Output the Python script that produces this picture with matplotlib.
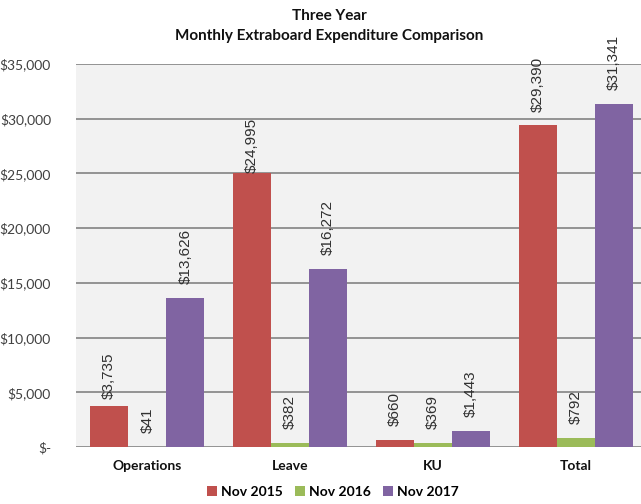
import matplotlib.pyplot as plt
import numpy as np
from matplotlib.patches import Patch
from matplotlib.ticker import FuncFormatter

categories = ["Operations", "Leave", "KU", "Total"]
series_names = ["Nov 2015", "Nov 2016", "Nov 2017"]
nov_2015 = [3735, 24995, 660, 29390]
nov_2016 = [41, 382, 369, 792]
nov_2017 = [13626, 16272, 1443, 31341]
colors = ["#C0504D", "#9BBB59", "#8064A2"]

plt.rcParams["font.family"] = ["Lato", "DejaVu Sans"]

fig = plt.figure(figsize=(6.41, 5.04), dpi=100)
ax = fig.add_axes([76 / 641, 57 / 504, 571 / 641, 383 / 504])
ax.set_facecolor("#F2F2F2")

# a couple of labels sit lower in the original chart
label_offset = {(0, 0): 5, (0, 1): 0}

x = np.arange(len(categories))
width = 0.8 / 3
for i, (vals, name) in enumerate(zip([nov_2015, nov_2016, nov_2017], series_names)):
    pos = x + (i - 1) * width
    ax.bar(pos, vals, width=width, color=colors[i], zorder=3, label=name)
    for j, (p, v) in enumerate(zip(pos, vals)):
        ax.annotate(
            f"${v:,}",
            (p, v),
            xytext=(0, label_offset.get((i, j), 10)),
            textcoords="offset points",
            rotation=90,
            ha="center",
            va="bottom",
            fontsize=11,
            family="Liberation Sans",
            color="#303030",
            zorder=4,
        )

ax.set_xlim(-0.5, 3.5)
ax.set_ylim(0, 35000)
ax.set_yticks(np.arange(0, 35001, 5000))
ax.yaxis.set_major_formatter(
    FuncFormatter(lambda v, _: "$-" if v == 0 else f"${v:,.0f}")
)
ax.set_xticks(x)
ax.set_xticklabels(categories, fontweight="bold", fontsize=10, color="#111111")
ax.tick_params(axis="y", length=0, pad=18, labelsize=10, labelcolor="#404040")
ax.tick_params(axis="x", length=0, pad=9)
ax.grid(axis="y", color="#8C8C8C", linewidth=1.3, zorder=0)
for s in ax.spines.values():
    s.set_visible(False)

fig.text(329 / 641, 1 - 16 / 504, "Three Year", ha="center", va="center",
         fontweight="bold", fontsize=11, color="#111111")
fig.text(329 / 641, 1 - 36 / 504, "Monthly Extraboard Expenditure Comparison",
         ha="center", va="center", fontweight="bold", fontsize=11, color="#111111")

handles = [Patch(facecolor=c) for c in colors]
fig.legend(handles, series_names, loc="center", bbox_to_anchor=(333 / 641, 1 - 492 / 504),
           ncol=3, frameon=False, handlelength=0.7, handleheight=0.7,
           handletextpad=0.3, columnspacing=0.9,
           prop={"weight": "bold", "size": 10})

fig.savefig("out.png", dpi=100)
